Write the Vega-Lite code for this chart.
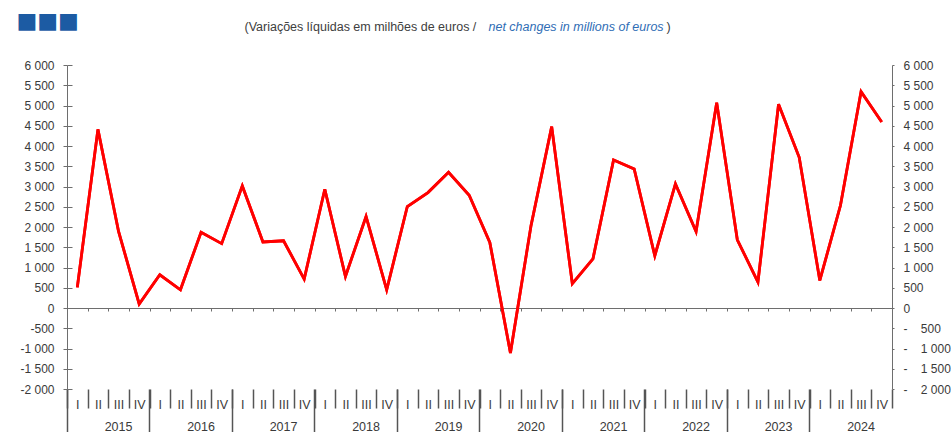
{
  "$schema": "https://vega.github.io/schema/vega-lite/v6.json",
  "autosize": {"type": "none"},
  "width": 825,
  "height": 324,
  "padding": {"left": 67, "top": 65, "right": 59, "bottom": 43},
  "background": "white",
  "data": {
    "values": [
      {"q": "2015-I", "v": 510}, {"q": "2015-II", "v": 4410}, {"q": "2015-III", "v": 1890}, {"q": "2015-IV", "v": 100},
      {"q": "2016-I", "v": 820}, {"q": "2016-II", "v": 450}, {"q": "2016-III", "v": 1870}, {"q": "2016-IV", "v": 1590},
      {"q": "2017-I", "v": 3015}, {"q": "2017-II", "v": 1630}, {"q": "2017-III", "v": 1660}, {"q": "2017-IV", "v": 715},
      {"q": "2018-I", "v": 2933}, {"q": "2018-II", "v": 780}, {"q": "2018-III", "v": 2260}, {"q": "2018-IV", "v": 450},
      {"q": "2019-I", "v": 2506}, {"q": "2019-II", "v": 2850}, {"q": "2019-III", "v": 3352}, {"q": "2019-IV", "v": 2785},
      {"q": "2020-I", "v": 1620}, {"q": "2020-II", "v": -1110}, {"q": "2020-III", "v": 2040}, {"q": "2020-IV", "v": 4478},
      {"q": "2021-I", "v": 600}, {"q": "2021-II", "v": 1210}, {"q": "2021-III", "v": 3657}, {"q": "2021-IV", "v": 3435},
      {"q": "2022-I", "v": 1290}, {"q": "2022-II", "v": 3065}, {"q": "2022-III", "v": 1890}, {"q": "2022-IV", "v": 5070},
      {"q": "2023-I", "v": 1685}, {"q": "2023-II", "v": 640}, {"q": "2023-III", "v": 5030}, {"q": "2023-IV", "v": 3722},
      {"q": "2024-I", "v": 680}, {"q": "2024-II", "v": 2530}, {"q": "2024-III", "v": 5340}, {"q": "2024-IV", "v": 4593}
    ]
  },
  "layer": [
    {
      "mark": {"type": "line", "color": "#ff0000", "strokeWidth": 2.8, "strokeJoin": "miter"},
      "encoding": {
        "x": {
          "field": "q", "type": "ordinal", "sort": null,
          "scale": {"type": "band", "paddingInner": 0, "paddingOuter": 0},
          "bandPosition": 0.5,
          "axis": {
            "orient": "bottom", "title": null, "domain": false,
            "tickBand": "extent", "tickSize": 19, "tickColor": "#555555", "tickWidth": 1.5,
            "labelExpr": "split(datum.value, '-')[1]",
            "labelAngle": 0, "labelOverlap": false, "labelBound": false,
            "labelFontSize": 12.5, "labelColor": "#3a3a3a", "labelBaseline": "middle", "labelPadding": -4
          }
        },
        "y": {
          "field": "v", "type": "quantitative",
          "scale": {"domain": [-2000, 6000], "nice": false, "zero": false},
          "axis": {
            "orient": "left",
            "values": [-2000, -1500, -1000, -500, 0, 500, 1000, 1500, 2000, 2500, 3000, 3500, 4000, 4500, 5000, 5500, 6000],
            "domain": true, "domainColor": "#6e6e6e", "tickColor": "#6e6e6e", "tickSize": 4,
            "labelExpr": "(datum.value < 0 ? '-' : '') + replace(format(abs(datum.value), ','), ',', ' ')",
            "labelFontSize": 12, "labelColor": "#3a3a3a", "labelPadding": 9,
            "title": "■■■", "titleX": -51, "titleY": -45, "titleAngle": 0, "titleAlign": "left", "titleBaseline": "middle",
            "titleFont": "DejaVu Sans", "titleFontSize": 22, "titleFontWeight": "normal", "titleColor": "#1c5ba3"
          }
        }
      }
    },
    {
      "mark": {"type": "line", "color": "#ff0000", "strokeWidth": 2.8, "strokeJoin": "miter"},
      "encoding": {
        "x": {
          "field": "q", "type": "ordinal", "sort": null,
          "scale": {"type": "band", "paddingInner": 0, "paddingOuter": 0},
          "bandPosition": 0.5,
          "axis": {
            "orient": "bottom", "offset": -81, "title": null,
            "domain": true, "domainColor": "#6e6e6e",
            "tickBand": "extent", "tickSize": 3, "tickColor": "#6e6e6e",
            "labels": false
          }
        },
        "y": {
          "field": "v", "type": "quantitative",
          "scale": {"domain": [-2000, 6000], "nice": false, "zero": false},
          "axis": {
            "orient": "right",
            "values": [-2000, -1500, -1000, -500, 0, 500, 1000, 1500, 2000, 2500, 3000, 3500, 4000, 4500, 5000, 5500, 6000],
            "domain": true, "domainColor": "#6e6e6e", "tickColor": "#6e6e6e", "tickSize": 2,
            "labelExpr": "(datum.value < 0 ? '-\u00a0\u00a0\u00a0\u00a0' : '\u00a0\u00a0\u00a0\u00a0') + replace(format(abs(datum.value), ','), ',', ' ')",
            "labelAlign": "left", "labelFontSize": 12, "labelColor": "#3a3a3a", "labelPadding": 9,
            "title": "net changes in millions of euros", "titleX": -404, "titleY": -39, "titleAngle": 0,
            "titleAlign": "left", "titleBaseline": "middle",
            "titleFontSize": 12.5, "titleFontWeight": "normal", "titleFontStyle": "italic", "titleColor": "#2f6db5"
          }
        }
      }
    },
    {
      "mark": {"type": "line", "opacity": 0},
      "encoding": {
        "x": {
          "field": "q", "type": "ordinal", "sort": null,
          "scale": {"type": "band", "paddingInner": 0, "paddingOuter": 0},
          "bandPosition": 0.5,
          "axis": {
            "orient": "bottom", "domain": false,
            "values": ["2015-I", "2016-I", "2017-I", "2018-I", "2019-I", "2020-I", "2021-I", "2022-I", "2023-I", "2024-I"],
            "bandPosition": 0, "tickSize": 43, "tickColor": "#555555", "tickWidth": 1.5,
            "labelExpr": "split(datum.value, '-')[0]",
            "labelAngle": 0, "labelOverlap": false, "labelBound": false,
            "labelOffset": 41.25, "labelAlign": "center", "labelBaseline": "middle", "labelPadding": -6,
            "labelFontSize": 12.5, "labelColor": "#3a3a3a",
            "title": ")", "titleX": 599, "titleY": -363, "titleAngle": 0, "titleAlign": "left", "titleBaseline": "middle",
            "titleFontSize": 12.5, "titleFontWeight": "normal", "titleColor": "#404040"
          }
        },
        "y": {
          "field": "v", "type": "quantitative",
          "scale": {"domain": [-2000, 6000], "nice": false, "zero": false},
          "axis": {
            "orient": "left",
            "values": [-2000, -1500, -1000, -500, 0, 500, 1000, 1500, 2000, 2500, 3000, 3500, 4000, 4500, 5000, 5500, 6000],
            "domain": false, "labels": false, "tickColor": "#6e6e6e", "tickSize": -5,
            "title": "(Variações líquidas em milhões de euros /", "titleX": 177, "titleY": -39, "titleAngle": 0,
            "titleAlign": "left", "titleBaseline": "middle",
            "titleFontSize": 12.5, "titleFontWeight": "normal", "titleColor": "#404040"
          }
        }
      }
    }
  ],
  "resolve": {"axis": {"x": "independent", "y": "independent"}},
  "config": {
    "view": {"stroke": null},
    "axis": {"grid": false, "labelFont": "Liberation Sans", "titleFont": "Liberation Sans"}
  }
}
